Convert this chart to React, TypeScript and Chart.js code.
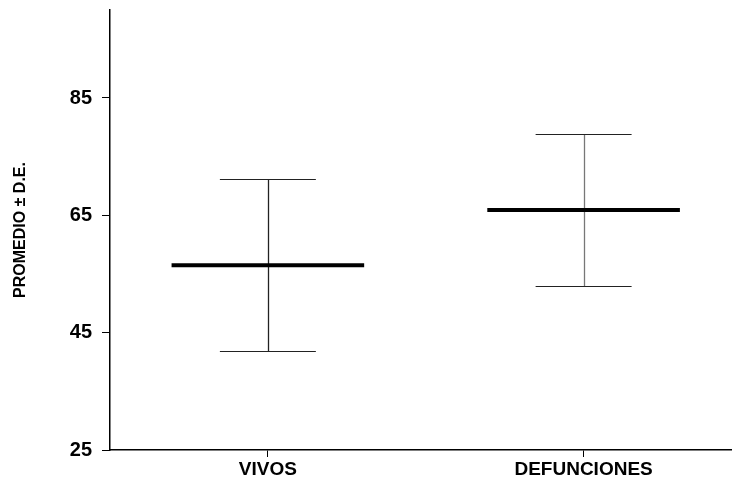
import React, { useEffect, useRef } from "react";
import { Chart, registerables } from "chart.js";

Chart.register(...registerables);

const categories = ["VIVOS", "DEFUNCIONES"];
const positions = [1, 2];
const means = [56.5, 65.9];
const sds = [14.7, 12.9];
const yTicks = [25, 45, 65, 85];
const yTitle = "PROMEDIO ± D.E.";

const FONT = '"Liberation Sans", Arial, sans-serif';

const errorBarPlugin = {
  id: "errorBars",
  afterDatasetsDraw(chart: any) {
    const { ctx, scales } = chart;
    const xs = scales.x;
    const ys = scales.y;
    const meanHalf = 0.305;
    const capHalf = 0.152;
    const whiskerColors = ["#222", "#777"];
    ctx.save();
    positions.forEach((p, i) => {
      const m = means[i];
      const s = sds[i];
      const xc = Math.round(xs.getPixelForValue(p)) + 0.5;
      const yTop = Math.round(ys.getPixelForValue(m + s)) + 0.5;
      const yBot = Math.round(ys.getPixelForValue(m - s)) + 0.5;
      const yMean = ys.getPixelForValue(m);
      ctx.strokeStyle = whiskerColors[i];
      ctx.lineWidth = 1.3;
      ctx.beginPath();
      ctx.moveTo(xc, yTop);
      ctx.lineTo(xc, yBot);
      ctx.stroke();
      ctx.strokeStyle = "#222";
      ctx.lineWidth = 1;
      ctx.beginPath();
      ctx.moveTo(xs.getPixelForValue(p - capHalf), yTop);
      ctx.lineTo(xs.getPixelForValue(p + capHalf), yTop);
      ctx.moveTo(xs.getPixelForValue(p - capHalf), yBot);
      ctx.lineTo(xs.getPixelForValue(p + capHalf), yBot);
      ctx.stroke();
      ctx.strokeStyle = "#000";
      ctx.lineWidth = 4;
      ctx.beginPath();
      ctx.moveTo(xs.getPixelForValue(p - meanHalf), yMean);
      ctx.lineTo(xs.getPixelForValue(p + meanHalf), yMean);
      ctx.stroke();
    });
    ctx.restore();
  },
};

export default function App() {
  const ref = useRef<HTMLCanvasElement | null>(null);
  useEffect(() => {
    if (!ref.current) return;
    const chart = new Chart(ref.current, {
      type: "scatter",
      data: {
        datasets: [
          {
            data: positions.map((p, i) => ({ x: p, y: means[i] })),
            pointRadius: 0,
            showLine: false,
          },
        ],
      },
      options: {
        animation: false,
        responsive: false,
        layout: { padding: { top: 10, left: 0, right: 0, bottom: 0 } },
        plugins: { legend: { display: false }, tooltip: { enabled: false } },
        scales: {
          x: {
            type: "linear",
            min: 0.5,
            max: 2.47,
            afterBuildTicks: (s: any) => {
              s.ticks = positions.map((v) => ({ value: v }));
            },
            afterFit: (s: any) => {
              s.height = 39;
              s.paddingLeft = 0;
              s.paddingRight = 0;
            },
            ticks: {
              autoSkip: false,
              maxRotation: 0,
              padding: 1,
              color: "#000",
              font: { family: FONT, size: 19, weight: "bold" },
              callback: (v: any) => {
                const i = positions.indexOf(Number(v));
                return i >= 0 ? categories[i] : "";
              },
            },
            grid: {
              display: true,
              drawOnChartArea: false,
              drawTicks: true,
              tickLength: 7,
              color: "#000",
              lineWidth: 1,
            },
            border: { display: true, color: "#000", width: 1.5 },
          },
          y: {
            type: "linear",
            min: 25,
            max: 100,
            afterBuildTicks: (s: any) => {
              s.ticks = yTicks.map((v) => ({ value: v }));
            },
            afterFit: (s: any) => {
              s.width = 110;
              s.paddingTop = 0;
              s.paddingBottom = 0;
            },
            ticks: {
              padding: 10,
              color: "#000",
              font: { family: FONT, size: 20, weight: "bold", lineHeight: 1 },
            },
            title: {
              display: true,
              text: yTitle,
              color: "#000",
              font: { family: FONT, size: 16, weight: "bold" },
              padding: { top: 11, bottom: 0 },
            },
            grid: {
              display: true,
              drawOnChartArea: false,
              drawTicks: true,
              tickLength: 8,
              color: "#000",
              lineWidth: 1,
            },
            border: { display: true, color: "#000", width: 1.5 },
          },
        },
      },
      plugins: [errorBarPlugin],
    });
    return () => chart.destroy();
  }, []);
  return (
    <div style={{ position: "absolute", left: 0, top: 0, width: 732, height: 489, background: "#fff" }}>
      <canvas ref={ref} width={732} height={489} style={{ display: "block" }} />
    </div>
  );
}
